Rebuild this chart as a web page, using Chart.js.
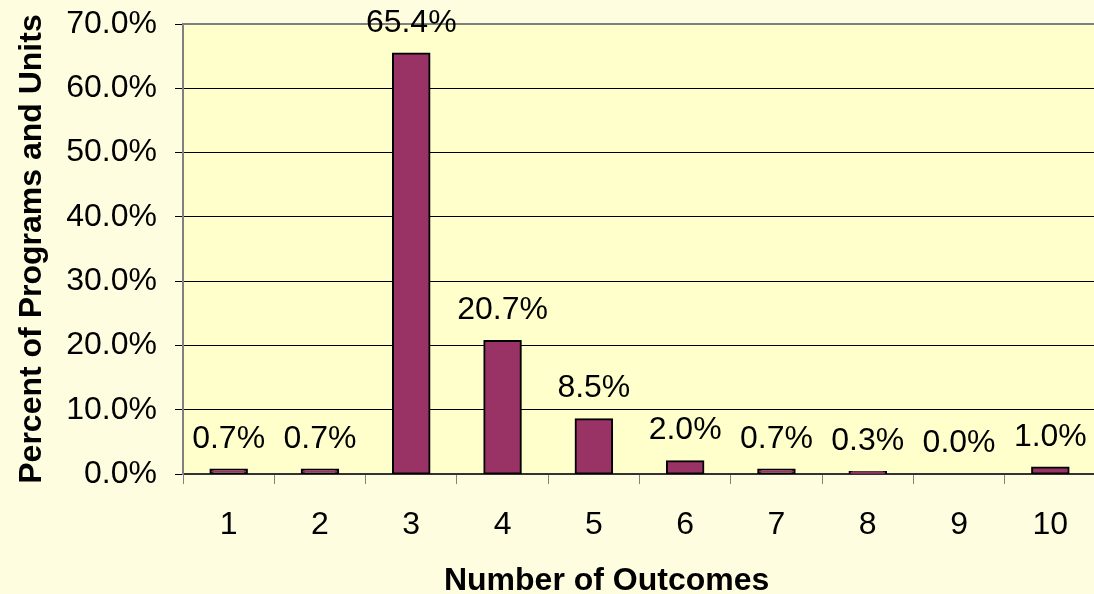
<!DOCTYPE html>
<html>
<head>
<meta charset="utf-8">
<script src="https://cdn.jsdelivr.net/npm/chart.js@4"></script>
<style>
  html, body { margin: 0; padding: 0; overflow: hidden; background: #FFFDE0; }
  #wrap { width: 1096px; height: 594px; position: relative; }
</style>
</head>
<body>
<div id="wrap"><canvas id="chart"></canvas></div>
<script>
// --- DATA ---
const categories = ['1', '2', '3', '4', '5', '6', '7', '8', '9', '10'];
const percentValues = [0.7, 0.7, 65.4, 20.7, 8.5, 2.0, 0.7, 0.3, 0.0, 1.0];
const yTicks = [0, 10, 20, 30, 40, 50, 60, 70];
const xTitle = 'Number of Outcomes';
const yTitle = 'Percent of Programs and Units';

const FONT = 'Arial, "Liberation Sans", sans-serif';

// plot area fill + top border, value labels, x title
const plotDeco = {
    id: 'plotDeco',
    beforeDraw(chart) {
        const {ctx, chartArea: a} = chart;
        ctx.save();
        ctx.fillStyle = '#FFFDE0';
        ctx.fillRect(0, 0, chart.width, chart.height);
        ctx.fillStyle = '#FFFFCC';
        ctx.fillRect(a.left, a.top, a.right - a.left, a.bottom - a.top);
        ctx.restore();
    },
    afterDatasetsDraw(chart) {
        const {ctx, chartArea: a} = chart;
        ctx.save();
        ctx.strokeStyle = '#808080';
        ctx.lineWidth = 2;
        ctx.beginPath();
        ctx.moveTo(a.left, a.top);
        ctx.lineTo(a.right, a.top);
        ctx.stroke();

        ctx.fillStyle = '#000';
        ctx.font = '32px ' + FONT;
        ctx.textAlign = 'center';
        ctx.textBaseline = 'alphabetic';
        chart.getDatasetMeta(0).data.forEach((bar, i) => {
            ctx.fillText(percentValues[i].toFixed(1) + '%', bar.x, bar.y - 22);
        });

        // x axis title (Excel puts it left of the plot centre here)
        const xs = chart.scales.x;
        ctx.font = 'bold 32px ' + FONT;
        ctx.fillText(xTitle, xs.left + (xs.right - xs.left) * 0.464, 590);
        ctx.restore();
    }
};

const isZero = ctx => ctx.raw === 0;

new Chart(document.getElementById('chart'), {
    type: 'bar',
    data: {
        labels: categories,
        datasets: [{
            data: percentValues,
            backgroundColor: '#993366',
            borderColor: '#000',
            borderWidth: ctx => isZero(ctx) ? 0 : 2,
            inflateAmount: ctx => isZero(ctx) ? 0 : 1,
            borderSkipped: false,
            barPercentage: 0.40,
            categoryPercentage: 1
        }]
    },
    options: {
        responsive: true, maintainAspectRatio: false, animation: false,
        layout: { padding: { top: 24, right: 0, left: 0, bottom: 0 } },
        plugins: { legend: { display: false }, tooltip: { enabled: false } },
        scales: {
            x: {
                afterFit: s => { s.height = 120; s.paddingLeft = 0; s.paddingRight = 0; },
                grid: { display: true, drawOnChartArea: false, drawTicks: true, tickLength: 10, tickColor: '#808080', offset: true },
                border: { color: '#333', width: 2 },
                ticks: { color: '#000', font: { family: FONT, size: 32 }, padding: 22 }
            },
            y: {
                min: 0, max: 70,
                afterFit: s => { s.width = 183; s.paddingTop = 0; s.paddingBottom = 0; },
                afterBuildTicks: s => { s.ticks = yTicks.map(v => ({ value: v })); },
                grid: { color: ctx => ctx.tick && ctx.tick.value === 70 ? 'rgba(0,0,0,0)' : '#000', tickColor: '#000', lineWidth: 1, tickLength: 8 },
                border: { color: '#808080', width: 2 },
                ticks: {
                    color: '#000', font: { family: FONT, size: 32 }, padding: 18,
                    callback: v => Number(v).toFixed(1) + '%'
                },
                title: {
                    display: true, text: yTitle, color: '#000',
                    font: { family: FONT, size: 32, weight: 'bold', lineHeight: 1 },
                    padding: { top: 16, bottom: 0 }
                }
            }
        }
    },
    plugins: [plotDeco]
});
</script>
</body>
</html>
